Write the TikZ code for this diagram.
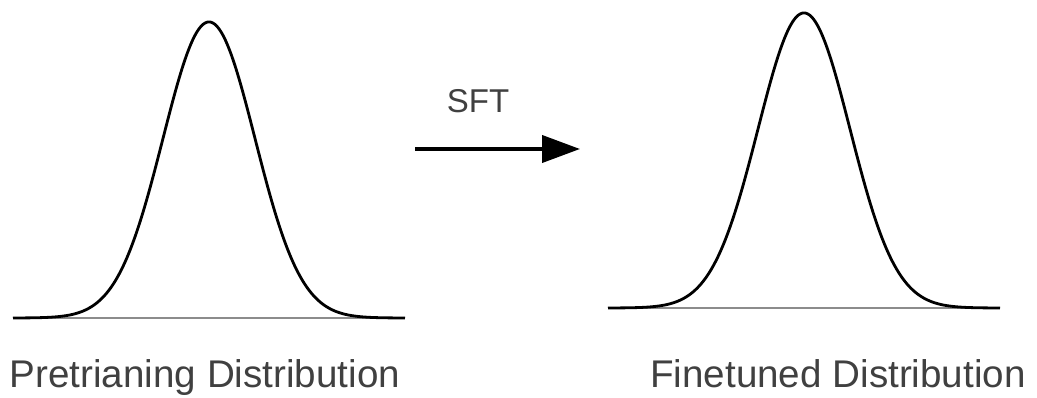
\documentclass[tikz,border=0pt]{standalone}
\usepackage{fontspec}
\setmainfont{Liberation Sans}
\usetikzlibrary{arrows.meta}
\definecolor{txt}{HTML}{404040}
\definecolor{base}{HTML}{8C8C8C}
\tikzset{
  curve/.style={line width=2.8pt, black, line join=round},
  baseln/.style={line width=2.6pt, base},
  lbl/.style={text=txt, font=\fontsize{38.6}{40}\selectfont, anchor=base, inner sep=0pt},
  sftlbl/.style={text=txt, font=\fontsize{33}{35}\selectfont, anchor=base, inner sep=0pt},
  flow/.style={line width=4pt, -{Triangle[length=38pt, width=27pt]}}
}
\begin{document}
\begin{tikzpicture}[x=1pt,y=-1pt]
\useasboundingbox (0,0) rectangle (1037,398);
% left distribution
\draw[baseln] (13,318) -- (405,318);
\draw[curve] plot[domain=13:405, samples=300] (\x, {318-296*exp(-0.5*((\x-209)/46)^2)});
% right distribution
\draw[baseln] (608,308) -- (1000,308);
\draw[curve] plot[domain=608:1000, samples=300] (\x, {308-295*exp(-0.5*((\x-804)/46)^2)});
% arrow
\coordinate (a) at (415,149);
\coordinate (b) at (580,149);
\draw[flow] (a) -- (b);
\node[sftlbl] (sft) at (478,113) {SFT};
% labels
\node[lbl] (pre) at (205,387) {Pretrianing Distribution};
\node[lbl] (fin) at (838,387) {Finetuned Distribution};
\end{tikzpicture}
\end{document}
